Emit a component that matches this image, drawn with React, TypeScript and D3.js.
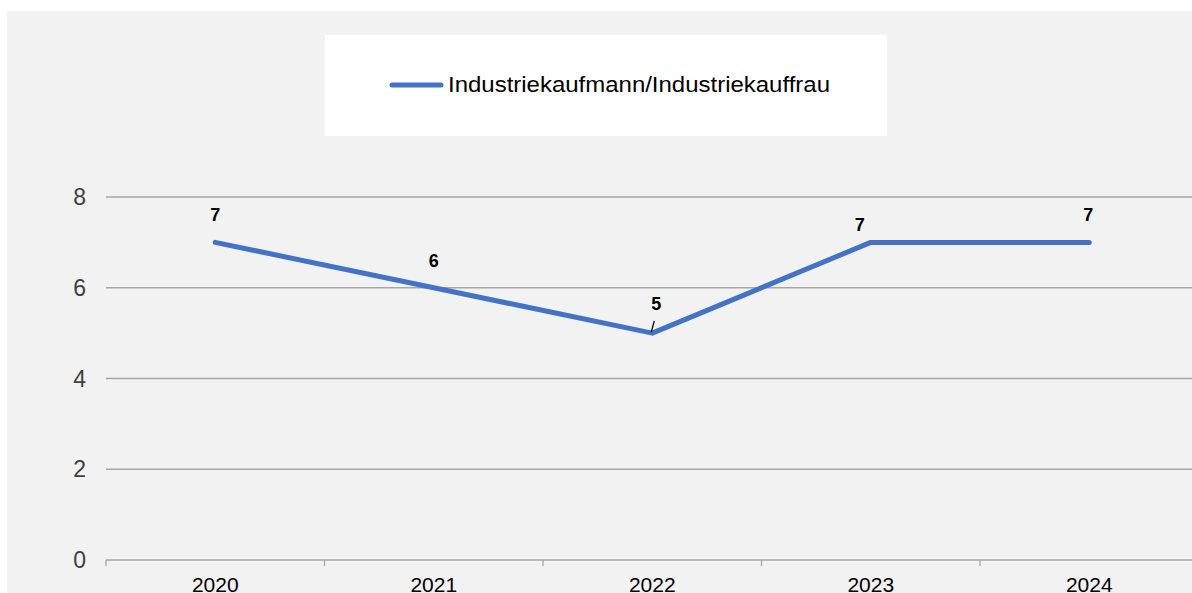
import React from 'react';
import * as d3 from 'd3';

const years = ['2020', '2021', '2022', '2023', '2024'];
const values = [7, 6, 5, 7, 7];
const yTicks = [0, 2, 4, 6, 8];
const seriesName = 'Industriekaufmann/Industriekauffrau';

const W = 1192;
const H = 593;

export default function App() {
  const margin = { left: 106, top: 197, bottom: 560 };
  const x = d3.scaleBand<string>().domain(years).range([margin.left, 1198.5]);
  const y = d3.scaleLinear().domain([0, 8]).range([margin.bottom, margin.top]);
  const cx = (d: string) => (x(d) || 0) + x.bandwidth() / 2;

  const line = d3
    .line<number>()
    .x((_d, i) => cx(years[i]))
    .y((d) => y(d));

  // label nudges, the way the spreadsheet placed them
  const labelOffset = [
    { dx: 0, dy: -21 },
    { dx: 0, dy: -21 },
    { dx: 4, dy: -23 },
    { dx: -11, dy: -11 },
    { dx: -1, dy: -21 },
  ];

  const font = 'Arial, "Liberation Sans", sans-serif';

  return (
    <svg
      width={W}
      height={H}
      style={{ position: 'absolute', left: 0, top: 0 }}
      fontFamily={font}
    >
      <rect x={0} y={0} width={W} height={H} fill="#ffffff" />
      <rect x={7} y={11} width={W - 7} height={H - 11} fill="#f2f2f2" />

      {/* legend */}
      <rect x={325} y={35} width={562} height={101} fill="#ffffff" />
      <line x1={392} x2={441} y1={85} y2={85} stroke="#4472c4" strokeWidth={5} strokeLinecap="round" />
      <text x={448} y={92} fontSize={22} fill="#000" textLength={382} lengthAdjust="spacingAndGlyphs">
        {seriesName}
      </text>

      {/* gridlines */}
      {yTicks
        .filter((t) => t > 0)
        .map((t) => (
          <line key={t} x1={margin.left} x2={W} y1={y(t)} y2={y(t)} stroke="#a6a6a6" strokeWidth={1.3} />
        ))}
      {/* y labels */}
      {yTicks.map((t) => (
        <text key={t} x={86} y={y(t) + 8} fontSize={23} textAnchor="end" fill="#404040">
          {t}
        </text>
      ))}

      {/* x axis */}
      <line x1={margin.left} x2={W} y1={y(0)} y2={y(0)} stroke="#a6a6a6" strokeWidth={1.3} />
      {years.map((d) => (
        <line key={d} x1={x(d)} x2={x(d)} y1={y(0)} y2={y(0) + 6} stroke="#a6a6a6" strokeWidth={1.3} />
      ))}
      {years.map((d) => (
        <text key={d} x={cx(d)} y={592} fontSize={21} textAnchor="middle" fill="#000">
          {d}
        </text>
      ))}

      {/* series */}
      <path d={line(values) || ''} fill="none" stroke="#4472c4" strokeWidth={5} strokeLinecap="round" strokeLinejoin="round" />

      {/* leader line for 2022 */}
      <line x1={cx(years[2]) - 1} y1={y(values[2]) - 1} x2={cx(years[2]) + 2} y2={y(values[2]) - 12} stroke="#000" strokeWidth={1.3} />

      {values.map((v, i) => (
        <text
          key={i}
          x={cx(years[i]) + labelOffset[i].dx}
          y={y(v) + labelOffset[i].dy}
          fontSize={18}
          fontWeight="bold"
          textAnchor="middle"
          fill="#000"
        >
          {v}
        </text>
      ))}
    </svg>
  );
}
